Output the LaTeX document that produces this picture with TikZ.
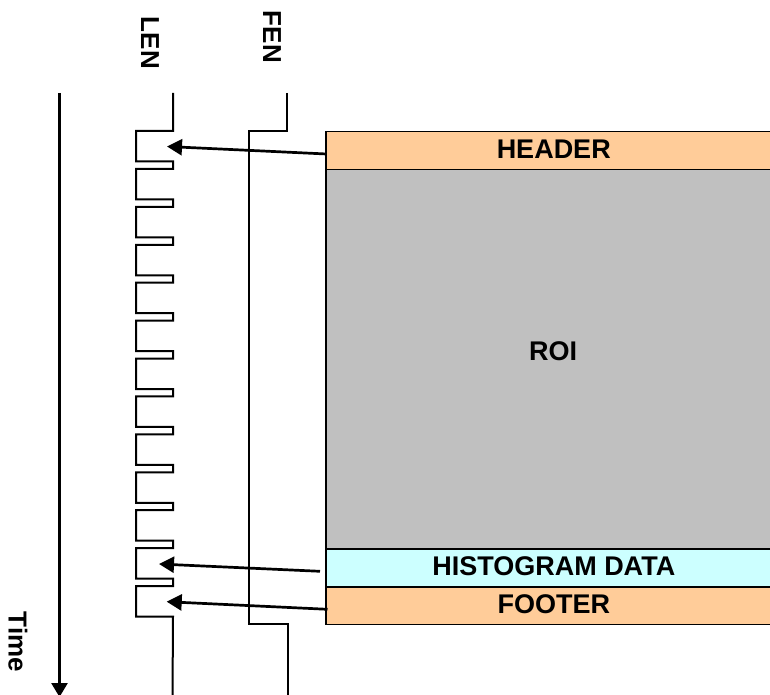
\documentclass[tikz,border=0pt]{standalone}
\usepackage{fontspec}
\setmainfont{Liberation Sans}
\usetikzlibrary{arrows.meta}
\begin{document}
\begin{tikzpicture}[x=1pt,y=-1pt,
  wave/.style={line width=2pt, line join=miter},
  band/.style={draw, line width=1.5pt, minimum width=456pt, inner sep=0pt, anchor=north west, text depth=3pt, font=\fontsize{27}{31}\selectfont\bfseries},
  ptr/.style={line width=2.7pt, -{Triangle[length=15pt,width=16pt]}},
  lbl/.style={font=\fontsize{26}{30}\selectfont\bfseries, rotate=-90, inner sep=0pt},
  txt/.style={font=\fontsize{27}{31}\selectfont\bfseries, inner sep=0pt}]
\useasboundingbox (0,0) rectangle (770,695);
\clip (0,0) rectangle (770,695);
% frame bands
\node[band, fill={rgb,255:red,255;green,204;blue,153}, minimum height=37.9pt] (hdr) at (325,131) {HEADER};
\node[band, fill={rgb,255:red,192;green,192;blue,192}, minimum height=379.2pt] (roi) at (325,168.9) {};
\node[txt] (roitext) at (553,351) {ROI};
\node[band, fill={rgb,255:red,204;green,255;blue,255}, minimum height=37.9pt] (hist) at (325,548.1) {HISTOGRAM DATA};
\node[band, fill={rgb,255:red,255;green,204;blue,153}, minimum height=37.9pt] (ftr) at (325,586) {FOOTER};
% labels
\node[lbl] (len) at (150,43) {LEN};
\node[lbl] (fen) at (272,37) {FEN};
\node[lbl] (time) at (18,642) {Time};
% time axis
\coordinate (t0) at (59.5,93);
\coordinate (t1) at (59.5,697);
\draw[line width=2.7pt, -{Triangle[length=14pt,width=16pt]}] (t0) -- (t1);
% LEN waveform
\draw[wave] (173,93) -- (173,131) -- (136,131)
  foreach \i in {0,...,11}{ -- (136,{131+37.92*\i+30.5}) -- (173,{131+37.92*\i+30.5}) -- (173,{131+37.92*(\i+1)}) -- (136,{131+37.92*(\i+1)}) }
  -- (136,616.7) -- (173,616.7) -- (172.5,697);
% FEN waveform
\draw[wave] (287.3,93) -- (287.3,131) -- (249.3,131) -- (249.3,624) -- (287.7,624) -- (287.7,697);
% pointers
\coordinate (hs) at (326.5,154);
\coordinate (ht) at (167,146.5);
\coordinate (gs) at (320,571.3);
\coordinate (gt) at (159,564);
\coordinate (fs) at (327.5,609.3);
\coordinate (ft) at (166.7,601.7);
\draw[ptr] (hs) -- (ht);
\draw[ptr] (gs) -- (gt);
\draw[ptr] (fs) -- (ft);
\end{tikzpicture}
\end{document}
